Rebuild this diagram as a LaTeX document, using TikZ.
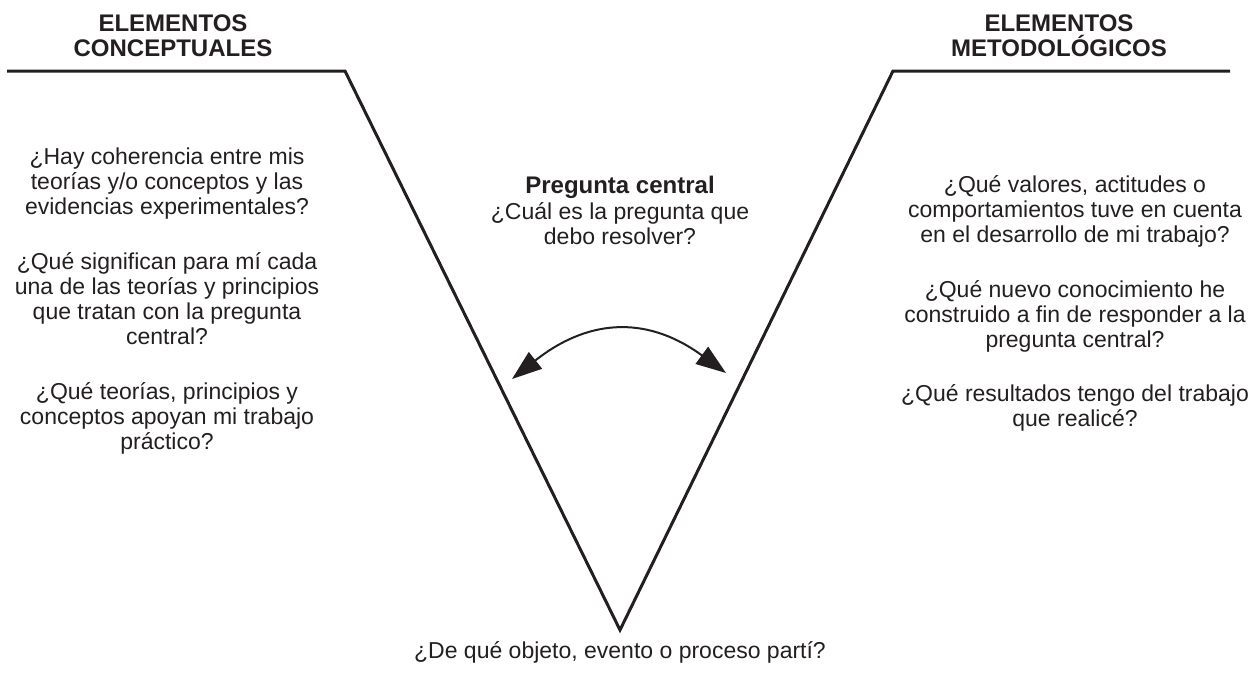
\documentclass[tikz,border=0pt]{standalone}
\usepackage{fontspec}
\setmainfont{Liberation Sans}
\usetikzlibrary{arrows.meta}
\definecolor{ink}{RGB}{35,31,32}
\tikzset{
  txt/.style={inner sep=0pt, font=\fontsize{23}{25}\selectfont, text=ink},
  head/.style={inner sep=0pt, font=\fontsize{24}{25}\selectfont\bfseries, text=ink},
  vline/.style={line width=3pt, line join=miter, draw=ink},
  swing/.style={line width=2pt, draw=ink,
    {Triangle[length=30pt,width=21pt]}-{Triangle[length=30pt,width=21pt]}},
}
\newcommand\para[5]{% style, name, x, first baseline y, lines
  \foreach \t [count=\i] in {#5} {
    \node[#1, anchor=base] (#2-\i) at (#3, {#4+25*(\i-1)}) {\t};
  }}
\begin{document}
\begin{tikzpicture}[x=1pt, y=-1pt]
\useasboundingbox (0,0) rectangle (1250,672);
% V shape
\coordinate (l0) at (7,71);
\coordinate (l1) at (345,71);
\coordinate (v) at (620,630);
\coordinate (r1) at (893,71);
\coordinate (r0) at (1230,71);
\draw[vline] (l0) -- (l1) -- (v) -- (r1) -- (r0);
% headers
\para{head}{hl}{173}{31}{ELEMENTOS,CONCEPTUALES}
\para{head}{hr}{1059}{31}{ELEMENTOS,METODOLÓGICOS}
% left column
\para{txt}{la}{167}{164}{¿Hay coherencia entre mis,teorías y/o conceptos y las,evidencias experimentales?}
\para{txt}{lb}{167}{269}{¿Qué significan para mí cada,una de las teorías y principios,que tratan con la pregunta,central?}
\para{txt}{lc}{167}{399}{{¿Qué teorías, principios y},conceptos apoyan mi trabajo,práctico?}
% center
\node[head, anchor=base] (pc) at (620,193) {Pregunta central};
\para{txt}{ca}{620}{219}{¿Cuál es la pregunta que,debo resolver?}
% right column
\para{txt}{ra}{1075}{192}{{¿Qué valores, actitudes o},comportamientos tuve en cuenta,en el desarrollo de mi trabajo?}
\para{txt}{rb}{1075}{297}{¿Qué nuevo conocimiento he,construido a fin de responder a la,pregunta central?}
\para{txt}{rc}{1075}{401}{¿Qué resultados tengo del trabajo,que realicé?}
% bottom
\node[txt, anchor=base] (bot) at (620,658) {¿De qué objeto, evento o proceso partí?};
% arrow
\coordinate (al) at (512,379);
\coordinate (ar) at (726,373);
\draw[swing] (al) .. controls (585,321) and (644,313) .. (ar);
\end{tikzpicture}
\end{document}
